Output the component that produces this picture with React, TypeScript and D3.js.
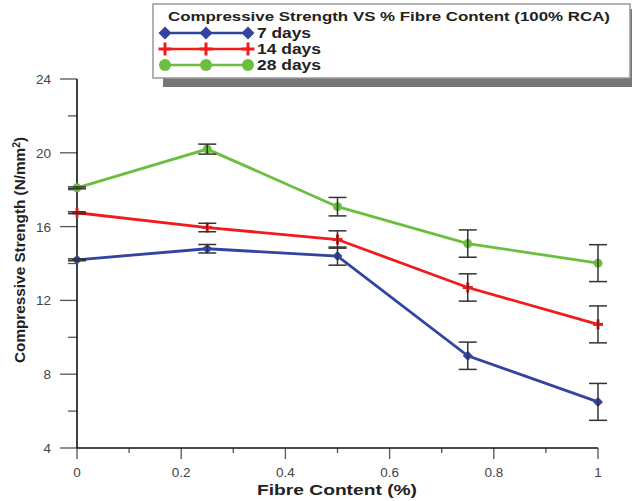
import * as d3 from 'd3';
import React from 'react';

// fibre content (%) on the x axis
const fibre = [0, 0.25, 0.5, 0.75, 1];

// compressive strength (N/mm2) and error half-widths
const days7 = [14.2, 14.8, 14.4, 9.0, 6.5];
const days7Err = [0.05, 0.23, 0.49, 0.74, 1.0];
const days14 = [16.75, 15.95, 15.3, 12.7, 10.7];
const days14Err = [0.05, 0.23, 0.47, 0.74, 1.0];
const days28 = [18.1, 20.2, 17.08, 15.08, 14.02];
const days28Err = [0.05, 0.27, 0.5, 0.74, 1.0];

const yTicks = [4, 8, 12, 16, 20, 24];
const xTicks = [0, 0.2, 0.4, 0.6, 0.8, 1];
const legendTitle = 'Compressive Strength VS % Fibre Content (100% RCA)';

const series = [
  { name: '7 days', values: days7, err: days7Err, color: '#3343a0', marker: 'diamond', textW: 54 },
  { name: '14 days', values: days14, err: days14Err, color: '#f01c1c', marker: 'plus', textW: 64 },
  { name: '28 days', values: days28, err: days28Err, color: '#6cbf3e', marker: 'circle', textW: 64 },
];

const W = 632;
const H = 501;

function Marker({ type, x, y, color, size }: { type: string; x: number; y: number; color: string; size: number }) {
  if (type === 'diamond') {
    const s = size;
    return <path d={`M${x},${y - s}L${x + s},${y}L${x},${y + s}L${x - s},${y}Z`} fill={color} />;
  }
  if (type === 'plus') {
    return (
      <g stroke={color} strokeWidth={3}>
        <line x1={x - size} x2={x + size} y1={y} y2={y} />
        <line x1={x} x2={x} y1={y - size} y2={y + size} />
      </g>
    );
  }
  return <circle cx={x} cy={y} r={size} fill={color} />;
}

export default function App() {
  const x = d3.scaleLinear().domain([0, 1]).range([77, 598]);
  const y = d3.scaleLinear().domain([4, 24]).range([448, 79]);
  const line = d3
    .line<number>()
    .x((_, i) => x(fibre[i]))
    .y((d) => y(d));

  const xMinor = d3.range(0, 1.0001, 0.1).filter((v) => Math.round(v * 10) % 2 === 1);
  const yMinor = [6, 10, 14, 18, 22];

  return (
    <svg width={W} height={H} style={{ position: 'absolute', left: 0, top: 0, background: '#fff' }}
      fontFamily="'Liberation Sans', Arial, sans-serif">
      {/* axes */}
      <g stroke="#555" strokeWidth={1.3}>
        {yTicks.map((t) => (
          <line key={'yt' + t} x1={60} x2={77} y1={y(t)} y2={y(t)} />
        ))}
        {yMinor.map((t) => (
          <line key={'ym' + t} x1={68} x2={77} y1={y(t)} y2={y(t)} />
        ))}
        {xTicks.map((t) => (
          <line key={'xt' + t} x1={x(t)} x2={x(t)} y1={448} y2={459} />
        ))}
        {xMinor.map((t) => (
          <line key={'xm' + t} x1={x(t)} x2={x(t)} y1={448} y2={453} />
        ))}
      </g>
      <line x1={77} x2={77} y1={79} y2={448} stroke="#111" strokeWidth={1.6} />
      <line x1={77} x2={598} y1={448} y2={448} stroke="#111" strokeWidth={1.6} />

      <g fontSize={13.5} fill="#444">
        {yTicks.map((t) => (
          <text key={'yl' + t} x={51} y={y(t) + 5} textAnchor="end">{t}</text>
        ))}
        {xTicks.map((t) => (
          <text key={'xl' + t} x={x(t)} y={477} textAnchor="middle">{t}</text>
        ))}
      </g>

      <text x={337} y={495} textAnchor="middle" fontSize={15.5} fontWeight="bold" fill="#222"
        textLength={160} lengthAdjust="spacingAndGlyphs">
        Fibre Content (%)
      </text>
      <text transform="translate(25,250) rotate(-90)" textAnchor="middle" fontSize={15} fontWeight="bold"
        fill="#222" textLength={226} lengthAdjust="spacingAndGlyphs">
        Compressive Strength (N/mm<tspan dy={-5} fontSize={10}>2</tspan><tspan dy={5}>)</tspan>
      </text>

      {/* series */}
      {series.map((s) => (
        <g key={s.name}>
          <path d={line(s.values) || ''} fill="none" stroke={s.color} strokeWidth={2.8} />
          {s.values.map((v, i) => (
            <Marker key={i} type={s.marker} x={x(fibre[i])} y={y(v)} color={s.color} size={s.marker === 'circle' ? 4.5 : 5} />
          ))}
        </g>
      ))}
      {/* error bars */}
      <g stroke="#333" strokeWidth={1.5}>
        {series.map((s) =>
          s.values.map((v, i) => {
            const cx = x(fibre[i]);
            const top = y(v + s.err[i]);
            const bot = y(v - s.err[i]);
            return (
              <g key={s.name + i}>
                <line x1={cx} x2={cx} y1={top} y2={bot} />
                <line x1={cx - 9} x2={cx + 9} y1={top} y2={top} />
                <line x1={cx - 9} x2={cx + 9} y1={bot} y2={bot} />
              </g>
            );
          })
        )}
      </g>

      {/* legend */}
      <rect x={163} y={9} width={472} height={78} fill="#777" />
      <rect x={153} y={4} width={477} height={74} fill="#fff" stroke="#999" strokeWidth={1.5} />
      <text x={168} y={21} fontSize={13.5} fontWeight="bold" fill="#222" textLength={442} lengthAdjust="spacingAndGlyphs">
        {legendTitle}
      </text>
      {series.map((s, i) => {
        const ly = 33 + i * 16;
        return (
          <g key={'lg' + s.name}>
            <line x1={165} x2={248} y1={ly} y2={ly} stroke={s.color} strokeWidth={2.5} />
            {[165, 206, 248].map((mx) => (
              <Marker key={mx} type={s.marker} x={mx} y={ly} color={s.color} size={s.marker === 'circle' ? 6 : 6.5} />
            ))}
            <text x={257} y={ly + 5} fontSize={14} fontWeight="bold" fill="#222"
              textLength={s.textW} lengthAdjust="spacingAndGlyphs">{s.name}</text>
          </g>
        );
      })}
    </svg>
  );
}
